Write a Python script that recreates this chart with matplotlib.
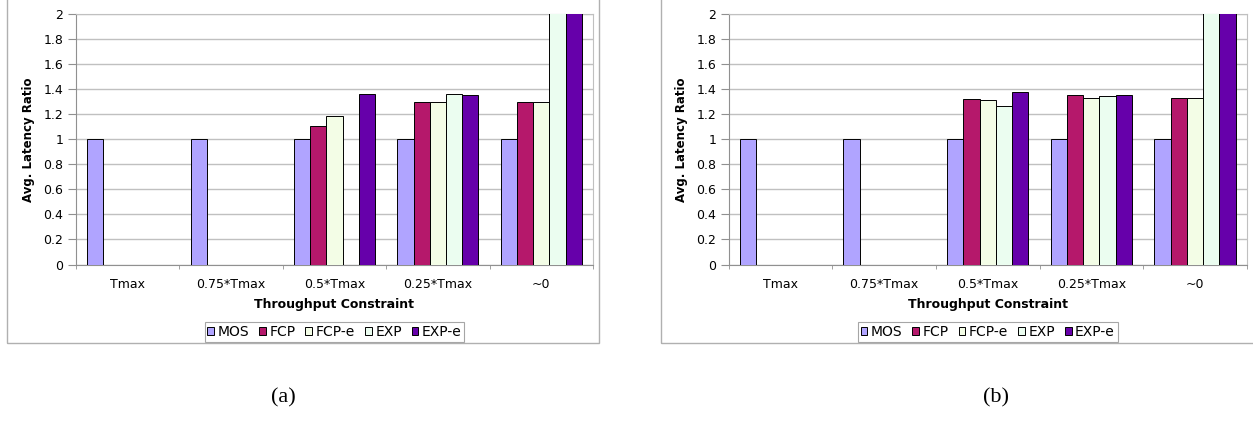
import numpy as np
import matplotlib
matplotlib.use("Agg")
import matplotlib.pyplot as plt
from matplotlib.patches import Rectangle

# the original text is stretched sideways; DejaVu Sans is the wider match
plt.rcParams['font.family'] = ['DejaVu Sans']

categories = ['Tmax', '0.75*Tmax', '0.5*Tmax', '0.25*Tmax', '~0']
series = ['MOS', 'FCP', 'FCP-e', 'EXP', 'EXP-e']
colors = ['#b0a4ff', '#b5186b', '#f3fde6', '#ebfdf0', '#6600aa']

nan = np.nan
# panel (a); bars above 2 are cut off by the axis in the original
mos_a = [1.0, 1.0, 1.0, 1.0, 1.0]
fcp_a = [nan, nan, 1.11, 1.30, 1.30]
fcpe_a = [nan, nan, 1.19, 1.30, 1.30]
exp_a = [nan, nan, nan, 1.365, 2.2]
expe_a = [nan, nan, 1.365, 1.357, 2.2]

# panel (b)
mos_b = [1.0, 1.0, 1.0, 1.0, 1.0]
fcp_b = [nan, nan, 1.32, 1.352, 1.328]
fcpe_b = [nan, nan, 1.312, 1.328, 1.328]
exp_b = [nan, nan, 1.27, 1.349, 2.2]
expe_b = [nan, nan, 1.378, 1.357, 2.2]

W, H = 1253, 423
fig = plt.figure(figsize=(W / 100, H / 100), dpi=100)


def draw_panel(ax, data):
    x = np.arange(len(categories))
    bw = 0.157
    for i, (name, vals) in enumerate(zip(series, data)):
        ax.bar(x + (i - 2) * bw, vals, width=bw, color=colors[i],
               edgecolor='black', linewidth=0.7, label=name, zorder=3)
    ax.set_xlim(-0.5, len(categories) - 0.5)
    ax.set_ylim(0, 2)
    ax.set_yticks(np.arange(0, 2.01, 0.2))
    ax.set_yticklabels(['0', '0.2', '0.4', '0.6', '0.8', '1', '1.2',
                        '1.4', '1.6', '1.8', '2'])
    ax.yaxis.grid(True, color='#c0c0c0', linewidth=1, zorder=0)
    ax.set_xticks(x)
    ax.set_xticklabels(categories)
    ax.set_xticks(np.arange(-0.5, len(categories)), minor=True)
    ax.tick_params(axis='x', which='major', length=0, pad=10, labelsize=9)
    ax.tick_params(axis='x', which='minor', length=3, color='#909090')
    ax.tick_params(axis='y', length=5.5, color='#909090', labelsize=9, pad=3.5)
    for s in ['left', 'bottom']:
        ax.spines[s].set_color('#909090')
    for s in ['top', 'right']:
        ax.spines[s].set_color('#c0c0c0')
    ax.set_xlabel('Throughput Constraint', fontsize=9, fontweight='bold',
                  labelpad=5)
    ax.set_ylabel('Avg. Latency Ratio', fontsize=8.5, fontweight='bold',
                  labelpad=6)
    leg = ax.legend(loc='upper center', bbox_to_anchor=(0.5, -0.23),
                    ncol=5, fontsize=10, frameon=True, fancybox=False,
                    handlelength=0.5, handleheight=0.5, handletextpad=0.25,
                    columnspacing=0.7, borderpad=0.2, borderaxespad=0)
    leg.get_frame().set_edgecolor('#909090')
    leg.get_frame().set_linewidth(0.8)


ax1 = fig.add_axes([76 / W, 1 - 264.5 / H, 517 / W, 250.2 / H])
draw_panel(ax1, [mos_a, fcp_a, fcpe_a, exp_a, expe_a])
ax2 = fig.add_axes([728.7 / W, 1 - 264.5 / H, 518 / W, 250.2 / H])
draw_panel(ax2, [mos_b, fcp_b, fcpe_b, exp_b, expe_b])

# chart frames
for x0, x1 in [(7, 599), (661, 1260)]:
    fig.patches.append(Rectangle((x0 / W, 1 - 343 / H), (x1 - x0) / W, 360 / H,
                                 transform=fig.transFigure, fill=False,
                                 edgecolor='#b0b0b0', linewidth=1, zorder=0))

fig.text(283 / W, 1 - 398 / H, '(a)', ha='center', va='center',
         fontsize=16, family='Liberation Serif')
fig.text(996 / W, 1 - 398 / H, '(b)', ha='center', va='center',
         fontsize=16, family='Liberation Serif')

fig.savefig('out.png', dpi=100)
